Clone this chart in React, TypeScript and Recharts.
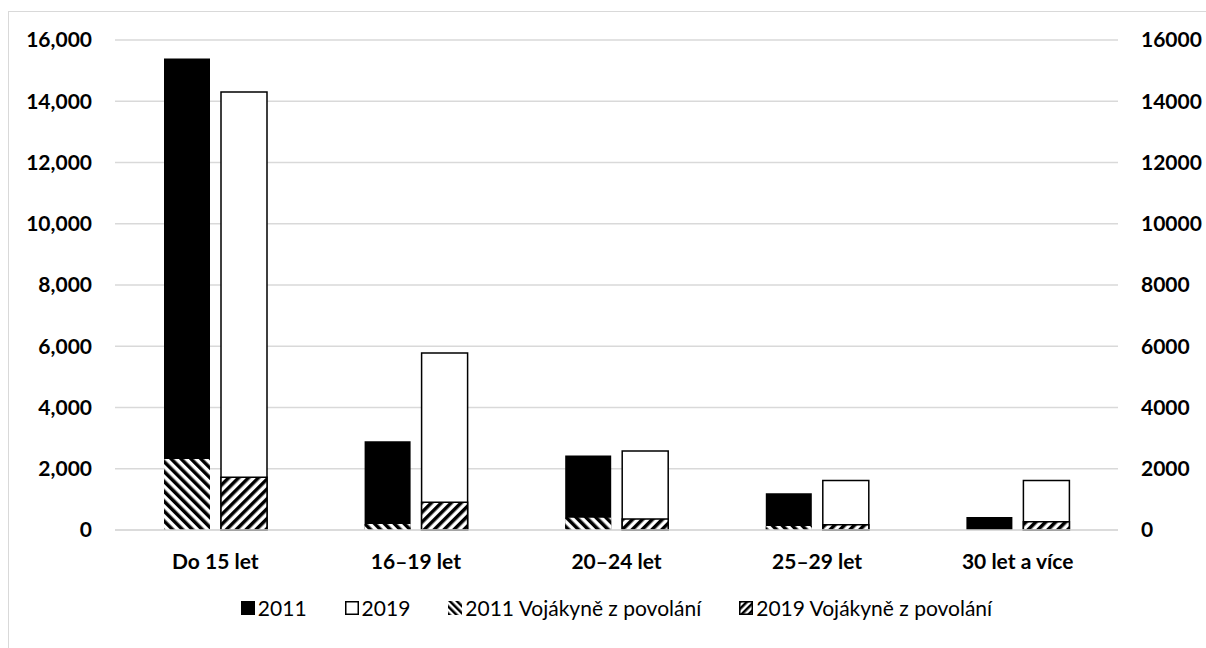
import React from 'react';
import { BarChart, Bar, XAxis, YAxis, CartesianGrid, Legend } from 'recharts';

const categories = ['Do 15 let', '16–19 let', '20–24 let', '25–29 let', '30 let a více'];
const total2011 = [15400, 2900, 2430, 1200, 425];
const total2019 = [14300, 5780, 2580, 1620, 1620];
const soldiers2011 = [2320, 200, 400, 130, 0];
const soldiers2019 = [1720, 910, 360, 170, 270];
const yTicks = [0, 2000, 4000, 6000, 8000, 10000, 12000, 14000, 16000];

const data = categories.map((c, i) => ({
  name: c,
  t2011: total2011[i],
  t2019: total2019[i],
  s2011: soldiers2011[i],
  s2019: soldiers2019[i],
}));

const FONT = 'Lato, "Open Sans", sans-serif';

const Swatch = ({ kind }: { kind: string }) => (
  <svg width={14} height={14} style={{ display: 'block' }}>
    <defs>
      <pattern id={`lg-${kind}`} width="5" height="5" patternUnits="userSpaceOnUse"
        patternTransform={kind === 's2011' ? 'rotate(-45)' : 'rotate(45)'}>
        <rect width="5" height="5" fill="#fff" />
        <rect width="2.5" height="5" fill="#000" />
      </pattern>
    </defs>
    {kind === 't2011' && <rect x={0} y={0} width={14} height={14} fill="#000" />}
    {kind === 't2019' && <rect x={0.75} y={0.75} width={12.5} height={12.5} fill="#fff" stroke="#000" strokeWidth={1.5} />}
    {kind === 's2011' && <rect x={0} y={0} width={14} height={14} fill={`url(#lg-${kind})`} />}
    {kind === 's2019' && <rect x={0.75} y={0.75} width={12.5} height={12.5} fill={`url(#lg-${kind})`} stroke="#000" strokeWidth={1.5} />}
  </svg>
);

const legendItems = [
  { kind: 't2011', label: '2011' },
  { kind: 't2019', label: '2019' },
  { kind: 's2011', label: '2011 Vojákyně z povolání' },
  { kind: 's2019', label: '2019 Vojákyně z povolání' },
];

const LegendContent = () => (
  <div style={{ width: 1197, height: 60, boxSizing: 'border-box', paddingLeft: 18 }}>
    <div style={{ height: 40, display: 'flex', alignItems: 'center', justifyContent: 'center', fontFamily: FONT, fontSize: 21, color: '#000' }}>
      {legendItems.map((it, i) => (
        <div key={it.kind} style={{ display: 'flex', alignItems: 'center', marginRight: i < legendItems.length - 1 ? 38 : 0 }}>
          <Swatch kind={it.kind} />
          <span style={{ marginLeft: 3, lineHeight: '40px' }}>{it.label}</span>
        </div>
      ))}
    </div>
  </div>
);

export default function App() {
  const tickStyle = { fill: '#000', fontSize: 21, fontWeight: 700, fontFamily: FONT };
  return (
    <div style={{ position: 'absolute', left: 8, top: 11, width: 1198, height: 637, borderLeft: '1px solid #d9d9d9', borderTop: '1px solid #d9d9d9', background: '#fff' }}>
      <BarChart width={1197} height={636} data={data} margin={{ top: 28, right: 0, left: 0, bottom: 0 }} barGap={11}>
        <defs>
          <pattern id="hatch2011" width="7" height="7" patternUnits="userSpaceOnUse" patternTransform="rotate(-45)">
            <rect width="7" height="7" fill="#fff" />
            <rect width="3.5" height="7" fill="#000" />
          </pattern>
          <pattern id="hatch2019" width="7" height="7" patternUnits="userSpaceOnUse" patternTransform="rotate(45)">
            <rect width="7" height="7" fill="#fff" />
            <rect width="3.5" height="7" fill="#000" />
          </pattern>
        </defs>
        <CartesianGrid vertical={false} stroke="#d9d9d9" strokeWidth={1.5} yAxisId="left" />
        <XAxis xAxisId="main" dataKey="name" height={58} tickSize={0} tickMargin={24} tickLine={false}
          axisLine={{ stroke: '#d9d9d9', strokeWidth: 1.5 }} tick={tickStyle} interval={0} />
        <XAxis xAxisId="over" dataKey="name" hide />
        <YAxis yAxisId="left" width={106} domain={[0, 16000]} ticks={yTicks} tickSize={0} tickMargin={23}
          axisLine={false} tickLine={false} tick={tickStyle}
          tickFormatter={(v: number) => v.toLocaleString('en-US')} />
        <YAxis yAxisId="right" orientation="right" width={88} domain={[0, 16000]} ticks={yTicks} tickSize={0} tickMargin={23}
          axisLine={false} tickLine={false} tick={tickStyle} tickFormatter={(v: number) => String(v)} />
        <Legend verticalAlign="bottom" content={<LegendContent />} wrapperStyle={{ left: 0, width: 1197 }} />
        <Bar xAxisId="main" yAxisId="left" dataKey="t2011" name="2011" fill="#000" barSize={46} isAnimationActive={false} />
        <Bar xAxisId="main" yAxisId="left" dataKey="t2019" name="2019" fill="#fff" stroke="#000" strokeWidth={1.5} barSize={46} isAnimationActive={false} />
        <Bar xAxisId="over" yAxisId="right" dataKey="s2011" name="2011 Vojákyně z povolání" fill="url(#hatch2011)" barSize={46} isAnimationActive={false} />
        <Bar xAxisId="over" yAxisId="right" dataKey="s2019" name="2019 Vojákyně z povolání" fill="url(#hatch2019)" stroke="#000" strokeWidth={1.5} barSize={46} isAnimationActive={false} />
      </BarChart>
    </div>
  );
}
